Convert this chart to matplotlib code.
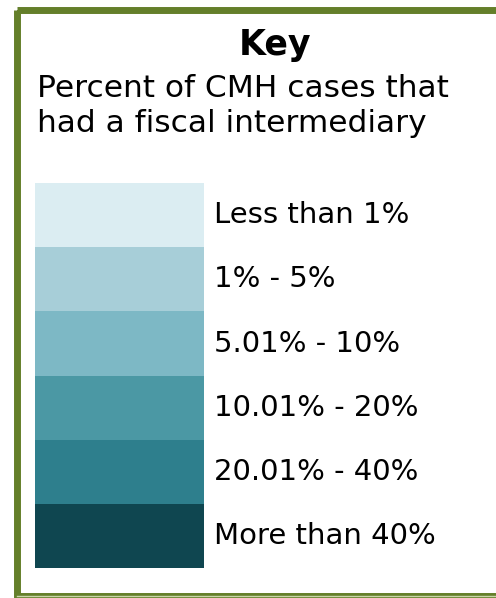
import numpy as np
import matplotlib.pyplot as plt
from matplotlib.patches import Rectangle

# legend classes, lightest to darkest
labels = ["Less than 1%", "1% - 5%", "5.01% - 10%", "10.01% - 20%",
          "20.01% - 40%", "More than 40%"]
colors = ["#dbedf2", "#a7ced8", "#7db8c5", "#4b98a4", "#2e7f8d", "#0f4650"]
title = "Key"
subtitle = ["Percent of CMH cases that", "had a fiscal intermediary"]

W, H = 496, 598
fig = plt.figure(figsize=(W / 100, H / 100), dpi=100)
ax = fig.add_axes([0, 0, 1, 1])
ax.set_xlim(0, W)
ax.set_ylim(H, 0)
ax.axis('off')

# green frame (right side runs off the image)
ax.add_patch(Rectangle((17, 10), 500, 586, fill=False, edgecolor='#647f2a', linewidth=5))
ax.plot([17, W], [596, 596], color='#c9d6a8', linewidth=1)

ax.text(275, 55, title, ha='center', va='baseline', fontsize=25, fontweight='bold')
for k, line in enumerate(subtitle):
    ax.text(37, 97 + 35 * k, line, ha='left', va='baseline', fontsize=22.5)

# colour swatches, stacked top to bottom
top, h = 183, 64.2
y = top + h * np.arange(len(labels))
ax.bar(np.full(len(labels), 119.5), np.full(len(labels), h), width=169,
       bottom=y, color=colors, align='center')
for i, lab in enumerate(labels):
    ax.text(214, y[i] + h / 2, lab, ha='left', va='center', fontsize=21)

fig.savefig('out.png', dpi=100)
